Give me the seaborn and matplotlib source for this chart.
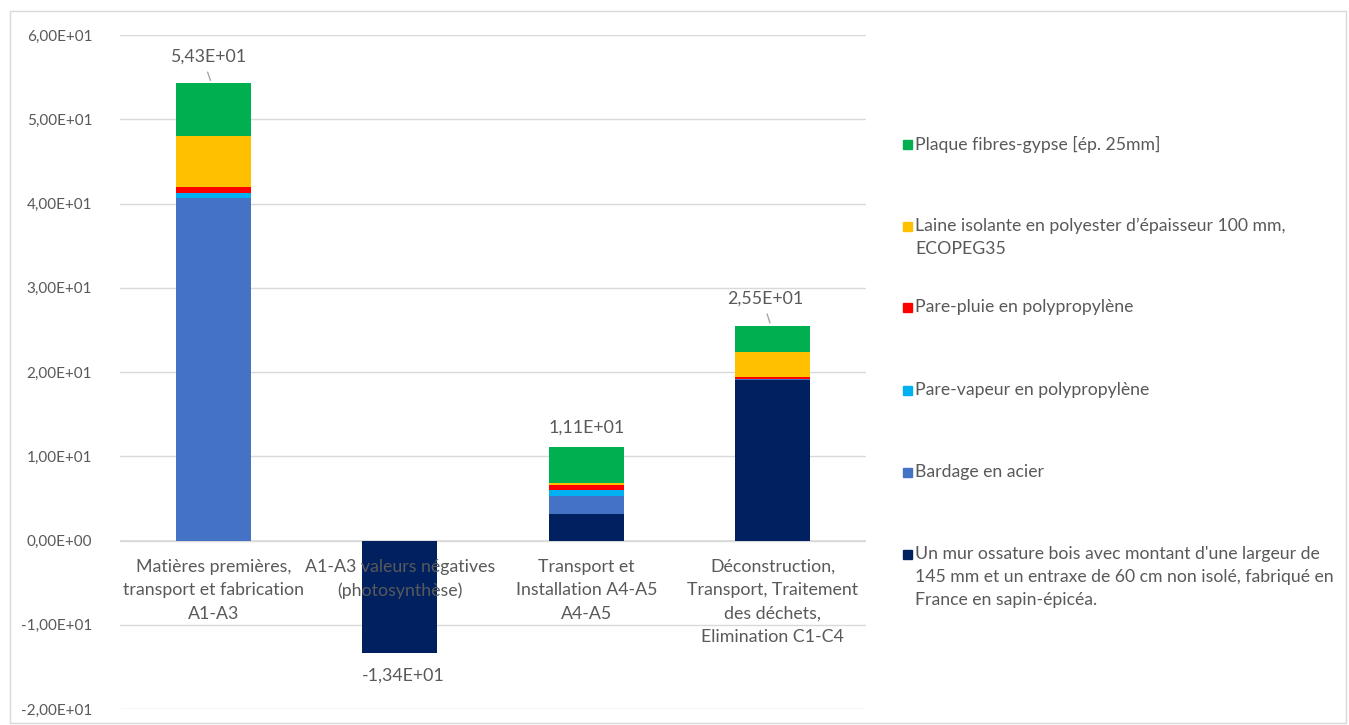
import numpy as np
import pandas as pd
import seaborn as sns
import matplotlib.pyplot as plt
from matplotlib.patches import Rectangle

categories = [
    "Matières premières,\ntransport et fabrication\nA1-A3",
    "A1-A3 valeurs négatives\n(photosynthèse)",
    "Transport et\nInstallation A4-A5\nA4-A5",
    "Déconstruction,\nTransport, Traitement\ndes déchets,\nElimination C1-C4",
]
series_names = [
    "Un mur ossature bois avec montant d'une largeur de\n145 mm et un entraxe de 60 cm non isolé, fabriqué en\nFrance en sapin-épicéa.",
    "Bardage en acier",
    "Pare-vapeur en polypropylène",
    "Pare-pluie en polypropylène",
    "Laine isolante en polyester d’épaisseur 100 mm,\nECOPEG35",
    "Plaque fibres-gypse [ép. 25mm]",
]
mur_bois = [0.0, -13.4, 3.2, 19.05]
bardage = [40.6, 0.0, 2.05, 0.1]
pare_vapeur = [0.6, 0.0, 0.8, 0.05]
pare_pluie = [0.7, 0.0, 0.5, 0.2]
laine = [6.1, 0.0, 0.25, 3.0]
plaque = [6.3, 0.0, 4.3, 3.1]
colors = ["#002060", "#4472C4", "#00B0F0", "#FF0000", "#FFC000", "#00B050"]
y_ticks = [-20, -10, 0, 10, 20, 30, 40, 50, 60]

values = [mur_bois, bardage, pare_vapeur, pare_pluie, laine, plaque]


def fr_sci(v):
    return f"{v:.2E}".replace(".", ",")


sns.set_theme(style="white")
plt.rcParams["font.family"] = ["Lato", "DejaVu Sans"]
grey = "#595959"

fig = plt.figure(figsize=(13.49, 7.25), dpi=100)
ax = fig.add_axes([120 / 1349, 16 / 725, 746 / 1349, 674 / 725])

df = pd.DataFrame({"cat": categories})
bottom = np.zeros(len(categories))
for name, vals, c in zip(series_names, values, colors):
    vals = np.array(vals)
    sns.barplot(x=df["cat"], y=vals, order=categories, bottom=bottom, color=c,
                width=0.4, ax=ax, saturation=1, linewidth=0, zorder=3)
    bottom = bottom + np.clip(vals, 0, None)

ax.set_ylim(-20, 60)
ax.set_xlim(-0.5, 3.5)
ax.set_yticks(y_ticks)
ax.set_yticklabels([fr_sci(t) for t in y_ticks], color=grey, fontsize=11)
ax.tick_params(axis="y", length=0, pad=20)
ax.set_xticks([])
ax.set_xlabel("")
ax.set_ylabel("")
for s in ax.spines.values():
    s.set_visible(False)
ax.grid(axis="y", color="#D9D9D9", lw=1, zorder=0)
ax.axhline(0, color="#D9D9D9", lw=1.2, zorder=1)

# category labels next to the zero line
for i, cat in enumerate(categories):
    ax.annotate(cat, (i, 0), xytext=(0, -13), textcoords="offset points",
                ha="center", va="top", fontsize=12.8, color=grey,
                linespacing=1.58, zorder=4)

# total labels
totals = np.sum(np.array(values), axis=0)
label_pos = [(-0.03, 57.4), None, (0.0, 13.4), (-0.04, 28.7)]
for i, t in enumerate(totals):
    if t < 0:
        ax.text(i + 0.02, -16.0, fr_sci(t), ha="center", va="center", fontsize=12.8, color=grey)
        continue
    dx, ly = label_pos[i]
    ax.text(i + dx, ly, fr_sci(t), ha="center", va="center", fontsize=12.8, color=grey, zorder=4)
    if i != 2:
        ax.annotate("", xy=(i - 0.01, t), xytext=(i - 0.035, ly - 1.5),
                    arrowprops=dict(arrowstyle="-", color="#A6A6A6", lw=1))

# legend drawn on the right
legend_y = [147, 229, 310, 393, 475, 557]
for k, (name, c) in enumerate(zip(series_names[::-1], colors[::-1])):
    y = legend_y[k]
    fig.patches.append(Rectangle((903 / 1349, 1 - (y + 2) / 725), 9 / 1349, 9 / 725,
                                 transform=fig.transFigure, color=c))
    fig.text(915 / 1349, 1 - (y - 11) / 725, name, ha="left", va="top",
             fontsize=12.7, color=grey, linespacing=1.52)

fig.patches.append(Rectangle((10 / 1349, 2 / 725), 1336 / 1349, 712 / 725,
                             transform=fig.transFigure, fill=False,
                             edgecolor="#D9D9D9", lw=1))

fig.savefig("out.png", dpi=100)
